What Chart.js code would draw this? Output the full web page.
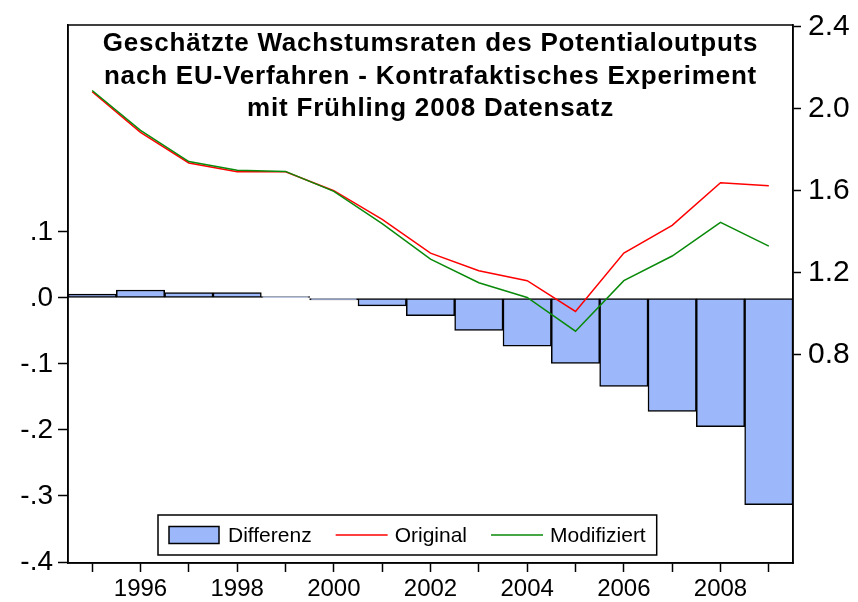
<!DOCTYPE html>
<html>
<head>
<meta charset="utf-8">
<script src="https://cdn.jsdelivr.net/npm/chart.js@4"></script>
<style>
    html, body { margin: 0; padding: 0; background: #fff; }
    #wrap { width: 858px; height: 602px; position: relative; }
</style>
</head>
<body>
<div id="wrap"><canvas id="potentialChart"></canvas></div>
<script>
/* global Chart, document */
const years = ["1995", "1996", "1997", "1998", "1999", "2000", "2001", "2002", "2003", "2004", "2005", "2006", "2007", "2008", "2009"];
const differenz = [0.006, 0.012, 0.008, 0.008, 0.002, -0.003, -0.012, -0.027, -0.049, -0.073, -0.099, -0.134, -0.172, -0.195, -0.313];
const original = [2.082, 1.884, 1.735, 1.692, 1.692, 1.600, 1.460, 1.296, 1.210, 1.162, 1.012, 1.296, 1.431, 1.639, 1.624];
const modifiziert = [2.088, 1.894, 1.742, 1.700, 1.694, 1.597, 1.440, 1.267, 1.152, 1.080, 0.916, 1.162, 1.282, 1.446, 1.330];
const leftTicks = [-0.4, -0.3, -0.2, -0.1, 0.0, 0.1];
const rightTicks = [0.8, 1.2, 1.6, 2.0, 2.4];
const titleLines = [
    "Geschätzte Wachstumsraten des Potentialoutputs",
    "nach EU-Verfahren - Kontrafaktisches Experiment",
    "mit Frühling 2008 Datensatz"
];

const FONT = "'Liberation Sans', Arial, sans-serif";

// frame + title inside the plot area
const framePlugin = {
    id: "frameAndTitle",
    afterDatasetsDraw(chart) {
        const { ctx, chartArea: a } = chart;
        ctx.save();
        ctx.fillStyle = "#000";
        ctx.font = "bold 26px " + FONT;
        ctx.letterSpacing = "0.8px";
        ctx.textAlign = "center";
        ctx.textBaseline = "alphabetic";
        const cx = (a.left + a.right) / 2;
        titleLines.forEach((line, i) => {
            ctx.fillText(line, cx, a.top + 26 + i * 32.5);
        });
        ctx.letterSpacing = "0px";
        ctx.lineWidth = 1.5;
        ctx.strokeStyle = "#000";
        ctx.strokeRect(a.left, a.top, a.right - a.left, a.bottom - a.top);
        ctx.restore();
    }
};

// boxed legend sitting at the bottom of the plot area
const legendPlugin = {
    id: "boxLegend",
    afterDraw(chart) {
        const { ctx, chartArea: a } = chart;
        const sets = chart.data.datasets;
        ctx.save();
        ctx.font = "21px " + FONT;
        const boxL = a.left + 90, boxT = a.bottom - 48, boxH = 40;
        let x = boxL + 11;
        const items = sets.map(ds => {
            const item = { ds: ds, x: x };
            x += 50 + 9 + ctx.measureText(ds.label).width + 24;
            return item;
        });
        const boxR = x - 24 + 11;
        ctx.fillStyle = "#fff";
        ctx.fillRect(boxL, boxT, boxR - boxL, boxH);
        ctx.lineWidth = 1.5;
        ctx.strokeStyle = "#000";
        ctx.strokeRect(boxL, boxT, boxR - boxL, boxH);
        const midY = boxT + boxH / 2;
        items.forEach(it => {
            if (it.ds.type === "bar") {
                ctx.fillStyle = it.ds.backgroundColor;
                ctx.fillRect(it.x, midY - 8.5, 50, 17);
                ctx.lineWidth = 1.5;
                ctx.strokeStyle = "#000";
                ctx.strokeRect(it.x, midY - 8.5, 50, 17);
            } else {
                ctx.lineWidth = 1.5;
                ctx.strokeStyle = it.ds.borderColor;
                ctx.beginPath();
                ctx.moveTo(it.x, midY);
                ctx.lineTo(it.x + 52, midY);
                ctx.stroke();
            }
            ctx.fillStyle = "#000";
            ctx.textAlign = "left";
            ctx.textBaseline = "middle";
            ctx.fillText(it.ds.label, it.x + 59, midY + 1);
        });
        ctx.restore();
    }
};

const ctx = document.getElementById("potentialChart").getContext("2d");
new Chart(ctx, {
    type: "bar",
    data: {
        labels: years,
        datasets: [
            {
                type: "bar",
                label: "Differenz",
                data: differenz,
                yAxisID: "y",
                backgroundColor: "#9cb8fa",
                borderColor: "#000",
                borderWidth: 1.5,
                borderSkipped: false,
                barPercentage: 1,
                categoryPercentage: 1,
                order: 3
            },
            {
                type: "line",
                label: "Original",
                data: original,
                yAxisID: "y2",
                borderColor: "#ff0000",
                borderWidth: 1.5,
                pointRadius: 0,
                tension: 0,
                fill: false,
                order: 2
            },
            {
                type: "line",
                label: "Modifiziert",
                data: modifiziert,
                yAxisID: "y2",
                borderColor: "#0a8a0a",
                borderWidth: 1.5,
                pointRadius: 0,
                tension: 0,
                fill: false,
                order: 1
            }
        ]
    },
    options: {
        responsive: true,
        maintainAspectRatio: false,
        animation: false,
        layout: { padding: { top: 19, left: 0, right: 0, bottom: 0 } },
        plugins: {
            legend: { display: false },
            title: { display: false },
            tooltip: { enabled: false }
        },
        scales: {
            x: {
                offset: true,
                grid: { offset: false, drawOnChartArea: false, drawTicks: true, tickLength: 9, tickColor: "#000", tickWidth: 1.5 },
                border: { display: true, color: "#000", width: 1.5 },
                ticks: {
                    autoSkip: false,
                    maxRotation: 0,
                    padding: 3,
                    color: "#000",
                    font: { family: FONT, size: 24 },
                    callback: function (value, index) {
                        const y = years[index];
                        return Number(y) % 2 === 0 ? y : "";
                    }
                },
                afterFit: function (scale) { scale.height = 39; }
            },
            y: {
                position: "left",
                min: -0.4015,
                max: 0.4135,
                afterBuildTicks: function (scale) { scale.ticks = leftTicks.map(v => ({ value: v })); },
                grid: { drawOnChartArea: false, drawTicks: true, tickLength: 10, tickColor: "#000", tickWidth: 1.5 },
                border: { display: true, color: "#000", width: 1.5 },
                ticks: {
                    padding: 5,
                    color: "#000",
                    font: { family: FONT, size: 28 },
                    callback: function (value) {
                        return value.toFixed(1).replace("0.", ".");
                    }
                },
                afterFit: function (scale) { scale.width = 68; }
            },
            y2: {
                position: "right",
                min: -0.213,
                max: 2.407,
                afterBuildTicks: function (scale) { scale.ticks = rightTicks.map(v => ({ value: v })); },
                grid: { drawOnChartArea: false, drawTicks: true, tickLength: 8, tickColor: "#000", tickWidth: 1.5 },
                border: { display: true, color: "#000", width: 1.5 },
                ticks: {
                    padding: 7,
                    color: "#000",
                    font: { family: FONT, size: 30 },
                    callback: function (value) {
                        return value.toFixed(1);
                    }
                },
                afterFit: function (scale) { scale.width = 65; }
            }
        }
    },
    plugins: [framePlugin, legendPlugin]
});
</script>
</body>
</html>
